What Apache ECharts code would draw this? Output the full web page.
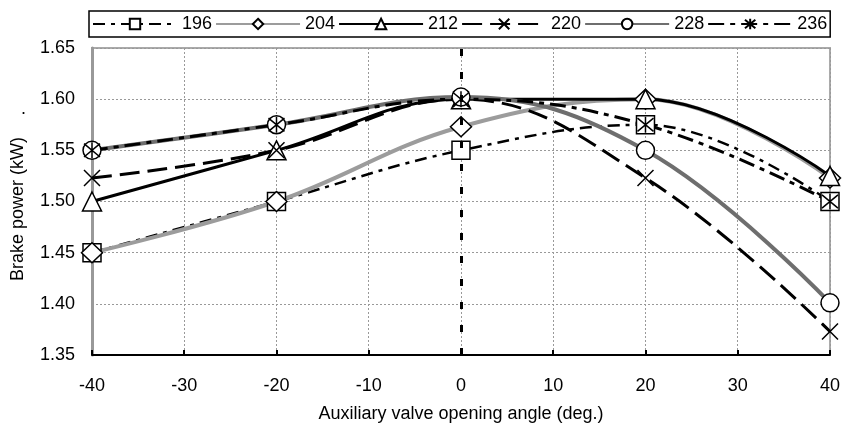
<!DOCTYPE html>
<html>
<head>
<meta charset="utf-8">
<script src="https://cdn.jsdelivr.net/npm/echarts@6/dist/echarts.min.js"></script>
<style>
html,body{margin:0;padding:0;background:#fff;}
#chart{width:843px;height:428px;}
</style>
</head>
<body>
<div id="chart"></div>
<script>
// ---- Data ----
const xValues = [-40, -20, 0, 20, 40];
const seriesNames = ['196', '204', '212', '220', '228', '236'];
const s196 = [1.450, 1.500, 1.550, 1.575, 1.500];
const s204 = [1.450, 1.500, 1.573, 1.600, 1.523];
const s212 = [1.500, 1.550, 1.600, 1.600, 1.525];
const s220 = [1.523, 1.550, 1.600, 1.523, 1.373];
const s228 = [1.550, 1.575, 1.602, 1.550, 1.401];
const s236 = [1.550, 1.575, 1.600, 1.575, 1.500];
const xTitle = 'Auxiliary valve opening angle (deg.)';
const yTitle = 'Brake power (kW)';
const refLineX = 0;

const FONT = '"Liberation Sans", Arial, sans-serif';
const chart = echarts.init(document.getElementById('chart'), null, {renderer: 'canvas'});

function pairs(vals) { return xValues.map((x, i) => [x, vals[i]]); }

const X_PATH = 'path://M0,0L10,10M10,0L0,10';
const AST_PATH = 'path://M0,0L10,10M10,0L0,10M5,-1L5,11';

function mk(name, vals, symbol, size, line) {
  return {
    name: name,
    type: 'line',
    data: pairs(vals),
    smooth: 0.4,
    symbol: symbol,
    symbolSize: size,
    showAllSymbol: true,
    itemStyle: {color: '#fff', borderColor: '#000', borderWidth: 1.5},
    lineStyle: line,
    z: 3
  };
}

const series = [
  mk(seriesNames[0], s196, 'rect', 18, {color: '#000', width: 2.5, type: [12, 6, 4, 6]}),
  mk(seriesNames[1], s204, 'diamond', [21, 20], {color: '#9c9c9c', width: 4, type: 'solid'}),
  mk(seriesNames[2], s212, 'triangle', 19, {color: '#000', width: 3, type: 'solid'}),
  mk(seriesNames[3], s220, X_PATH, 16, {color: '#000', width: 3, type: [20, 8]}),
  mk(seriesNames[4], s228, 'circle', 18, {color: '#6e6e6e', width: 4, type: 'solid'}),
  mk(seriesNames[5], s236, AST_PATH, 16, {color: '#000', width: 3, type: [16, 6, 5, 6]})
];
series[0].markLine = {
  silent: true,
  symbol: ['none', 'none'],
  label: {show: false},
  lineStyle: {color: '#000', width: 3, type: [7, 16]},
  data: [{xAxis: refLineX}]
};

chart.setOption({
  animation: false,
  backgroundColor: '#fff',
  textStyle: {fontFamily: FONT},
  grid: {left: 92, right: 13, top: 48, bottom: 62, show: true, borderColor: '#aaa', borderWidth: 2, backgroundColor: 'transparent'},
  legend: {
    data: seriesNames,
    left: 89, top: 11,
    padding: [4, 3, 4, 3],
    itemWidth: 84, itemHeight: 13, itemGap: 3,
    borderColor: '#000', borderWidth: 1.5,
    textStyle: {fontSize: 18, color: '#000', fontFamily: FONT}
  },
  xAxis: {
    type: 'value', min: -40, max: 40, interval: 10,
    axisLine: {onZero: false, lineStyle: {color: '#000', width: 2}},
    axisTick: {show: true, inside: true, length: 5, lineStyle: {color: '#000', width: 2}},
    axisLabel: {fontSize: 18, color: '#000', margin: 22, fontFamily: FONT},
    splitLine: {show: true, lineStyle: {color: '#999', width: 1, type: [2, 2]}},
    name: xTitle, nameLocation: 'middle', nameGap: 50,
    nameTextStyle: {fontSize: 18, color: '#000', fontFamily: FONT}
  },
  yAxis: {
    type: 'value', min: 1.35, max: 1.65, interval: 0.05,
    axisLine: {show: true, onZero: false, lineStyle: {color: '#999', width: 3}},
    axisTick: {show: false},
    axisLabel: {fontSize: 18, color: '#000', margin: 17, fontFamily: FONT, formatter: v => v.toFixed(2)},
    splitLine: {show: true, lineStyle: {color: '#999', width: 1, type: [2, 2]}}
  },
  graphic: [
    {type: 'text', left: 9, top: 137, rotation: Math.PI / 2,
     style: {text: yTitle, fontSize: 18, fill: '#000', fontFamily: FONT}},
    {type: 'text', left: 21, top: 100, style: {text: '.', fontSize: 18, fill: '#000', fontFamily: FONT}}
  ],
  series: series
});
</script>
</body>
</html>
